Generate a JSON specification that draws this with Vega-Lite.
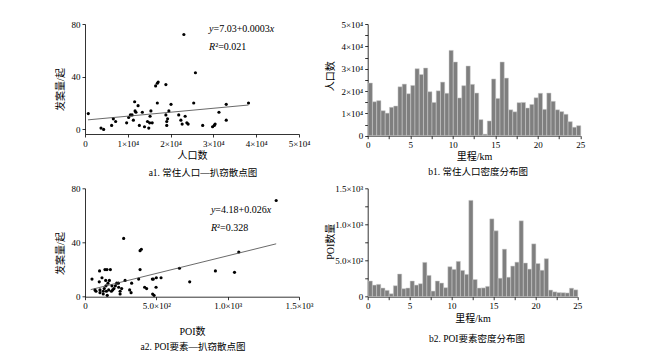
{
  "$schema": "https://vega.github.io/schema/vega-lite/v6.json",
  "padding": {"left": 55, "top": 20, "right": 5, "bottom": 5},
  "bounds": "flush",
  "columns": 2,
  "spacing": {"row": 52.3, "column": 68.7},
  "config": {
    "font": "Liberation Serif, Noto Sans CJK SC",
    "view": {"stroke": null},
    "axis": {"grid": false, "domainColor": "#000", "domainWidth": 0.8, "tickColor": "#000", "tickWidth": 0.8, "tickSize": 3, "labelFontSize": 9, "labelColor": "#000", "labelPadding": 2, "titleFontSize": 10, "titleFontWeight": "normal", "titleColor": "#000", "labelFlush": false, "labelOverlap": false},
    "title": {"fontSize": 9.5, "fontWeight": "normal", "color": "#000"}
  },
  "datasets": {
    "pts1": [
      {"pop": 770, "cases": 12}, {"pop": 3740, "cases": 1}, {"pop": 4350, "cases": 0}, {"pop": 6220, "cases": 3}, {"pop": 6620, "cases": 8}, {"pop": 7160, "cases": 6}, {"pop": 9730, "cases": 5}, {"pop": 10200, "cases": 9}, {"pop": 10600, "cases": 11}, {"pop": 11000, "cases": 11}, {"pop": 11300, "cases": 7}, {"pop": 11600, "cases": 21}, {"pop": 11700, "cases": 14}, {"pop": 11900, "cases": 13}, {"pop": 12400, "cases": 18}, {"pop": 12700, "cases": 3}, {"pop": 13400, "cases": 13}, {"pop": 13900, "cases": 2}, {"pop": 14600, "cases": 6}, {"pop": 14900, "cases": 1}, {"pop": 15100, "cases": 5}, {"pop": 15200, "cases": 10}, {"pop": 15400, "cases": 14}, {"pop": 15700, "cases": 5}, {"pop": 16500, "cases": 33}, {"pop": 16900, "cases": 35}, {"pop": 17100, "cases": 36}, {"pop": 16900, "cases": 20}, {"pop": 18900, "cases": 34}, {"pop": 18900, "cases": 11}, {"pop": 19100, "cases": 6}, {"pop": 19100, "cases": 3}, {"pop": 19300, "cases": 8}, {"pop": 19600, "cases": 14}, {"pop": 20100, "cases": 19}, {"pop": 21900, "cases": 11}, {"pop": 22400, "cases": 7}, {"pop": 22700, "cases": 4}, {"pop": 23100, "cases": 72}, {"pop": 23400, "cases": 10}, {"pop": 23800, "cases": 5}, {"pop": 24100, "cases": 4}, {"pop": 25800, "cases": 43}, {"pop": 25400, "cases": 20}, {"pop": 27500, "cases": 3}, {"pop": 29800, "cases": 2}, {"pop": 30200, "cases": 3}, {"pop": 30400, "cases": 4}, {"pop": 31300, "cases": 13}, {"pop": 33000, "cases": 19}, {"pop": 33000, "cases": 7}, {"pop": 38200, "cases": 20}
    ],
    "fit1": [{"pop": 700, "cases": 7.24}, {"pop": 38200, "cases": 18.49}],
    "eq1": [{"pop": 29000, "cases": 76, "a": "y", "b": "=7.03+0.0003", "c": "x"}],
    "r1": [{"pop": 29000, "cases": 62.3, "a": "R", "b": "²=0.021"}],
    "hist1": [
      {"a": 0, "b": 0.5, "v": 23600}, {"a": 0.5, "b": 1, "v": 15200}, {"a": 1, "b": 1.5, "v": 15700}, {"a": 1.5, "b": 2, "v": 11200}, {"a": 2, "b": 2.5, "v": 10100}, {"a": 2.5, "b": 3, "v": 12700}, {"a": 3, "b": 3.5, "v": 13300}, {"a": 3.5, "b": 4, "v": 21900}, {"a": 4, "b": 4.5, "v": 23100}, {"a": 4.5, "b": 5, "v": 18800},
      {"a": 5, "b": 5.5, "v": 22500}, {"a": 5.5, "b": 6, "v": 30000}, {"a": 6, "b": 6.5, "v": 27400}, {"a": 6.5, "b": 7, "v": 30300}, {"a": 7, "b": 7.5, "v": 19700}, {"a": 7.5, "b": 8, "v": 14900}, {"a": 8, "b": 8.5, "v": 20100}, {"a": 8.5, "b": 9, "v": 24000}, {"a": 9, "b": 9.5, "v": 19000}, {"a": 9.5, "b": 10, "v": 38200},
      {"a": 10, "b": 10.5, "v": 33000}, {"a": 10.5, "b": 11, "v": 16900}, {"a": 11, "b": 11.5, "v": 22400}, {"a": 11.5, "b": 12, "v": 31200}, {"a": 12, "b": 12.5, "v": 23000}, {"a": 12.5, "b": 13, "v": 19100}, {"a": 13, "b": 13.5, "v": 7200}, {"a": 13.5, "b": 14, "v": 700}, {"a": 14, "b": 14.5, "v": 6600}, {"a": 14.5, "b": 15, "v": 25400},
      {"a": 15, "b": 15.5, "v": 16700}, {"a": 15.5, "b": 16, "v": 33000}, {"a": 16, "b": 16.5, "v": 25800}, {"a": 16.5, "b": 17, "v": 11600}, {"a": 17, "b": 17.5, "v": 10700}, {"a": 17.5, "b": 18, "v": 14800}, {"a": 18, "b": 18.5, "v": 14900}, {"a": 18.5, "b": 19, "v": 12400}, {"a": 19, "b": 19.5, "v": 14000}, {"a": 19.5, "b": 20, "v": 17000},
      {"a": 20, "b": 20.5, "v": 19000}, {"a": 20.5, "b": 21, "v": 11800}, {"a": 21, "b": 21.5, "v": 19100}, {"a": 21.5, "b": 22, "v": 15400}, {"a": 22, "b": 22.5, "v": 11600}, {"a": 22.5, "b": 23, "v": 10800}, {"a": 23, "b": 23.5, "v": 9600}, {"a": 23.5, "b": 24, "v": 6300}, {"a": 24, "b": 24.5, "v": 3800}, {"a": 24.5, "b": 25, "v": 4500}
    ],
    "pts2": [
      {"poi": 49, "cases": 13}, {"poi": 70, "cases": 5}, {"poi": 77, "cases": 4}, {"poi": 100, "cases": 11}, {"poi": 105, "cases": 5}, {"poi": 105, "cases": 3}, {"poi": 102, "cases": 19}, {"poi": 119, "cases": 14}, {"poi": 128, "cases": 4}, {"poi": 128, "cases": 2}, {"poi": 135, "cases": 6}, {"poi": 140, "cases": 20}, {"poi": 154, "cases": 20}, {"poi": 145, "cases": 12}, {"poi": 147, "cases": 8}, {"poi": 150, "cases": 4}, {"poi": 156, "cases": 1}, {"poi": 161, "cases": 10}, {"poi": 166, "cases": 5}, {"poi": 171, "cases": 12}, {"poi": 178, "cases": 20}, {"poi": 185, "cases": 4}, {"poi": 189, "cases": 8}, {"poi": 194, "cases": 5}, {"poi": 203, "cases": 6}, {"poi": 213, "cases": 8}, {"poi": 222, "cases": 10}, {"poi": 234, "cases": 10}, {"poi": 236, "cases": 7}, {"poi": 246, "cases": 4}, {"poi": 246, "cases": 2}, {"poi": 257, "cases": 6}, {"poi": 271, "cases": 43}, {"poi": 281, "cases": 12}, {"poi": 313, "cases": 5}, {"poi": 323, "cases": 3}, {"poi": 327, "cases": 10}, {"poi": 376, "cases": 13}, {"poi": 386, "cases": 20}, {"poi": 386, "cases": 34}, {"poi": 395, "cases": 35}, {"poi": 418, "cases": 7}, {"poi": 432, "cases": 6}, {"poi": 472, "cases": 13}, {"poi": 479, "cases": 13}, {"poi": 474, "cases": 2}, {"poi": 484, "cases": 1}, {"poi": 498, "cases": 7}, {"poi": 500, "cases": 14}, {"poi": 533, "cases": 14}, {"poi": 662, "cases": 21}, {"poi": 734, "cases": 11}, {"poi": 914, "cases": 19}, {"poi": 1048, "cases": 18}, {"poi": 1078, "cases": 33}, {"poi": 1340, "cases": 71}
    ],
    "fit2": [{"poi": 40, "cases": 5.22}, {"poi": 1340, "cases": 39.02}],
    "eq2": [{"poi": 883, "cases": 63.8, "a": "y", "b": "=4.18+0.026", "c": "x"}],
    "r2": [{"poi": 883, "cases": 50.9, "a": "R", "b": "²=0.328"}],
    "hist2": [
      {"a": 0, "b": 0.5, "v": 217}, {"a": 0.5, "b": 1, "v": 161}, {"a": 1, "b": 1.5, "v": 171}, {"a": 1.5, "b": 2, "v": 120}, {"a": 2, "b": 2.5, "v": 88}, {"a": 2.5, "b": 3, "v": 41}, {"a": 3, "b": 3.5, "v": 152}, {"a": 3.5, "b": 4, "v": 314}, {"a": 4, "b": 4.5, "v": 111}, {"a": 4.5, "b": 5, "v": 120},
      {"a": 5, "b": 5.5, "v": 217}, {"a": 5.5, "b": 6, "v": 161}, {"a": 6, "b": 6.5, "v": 180}, {"a": 6.5, "b": 7, "v": 475}, {"a": 7, "b": 7.5, "v": 295}, {"a": 7.5, "b": 8, "v": 78}, {"a": 8, "b": 8.5, "v": 217}, {"a": 8.5, "b": 9, "v": 189}, {"a": 9, "b": 9.5, "v": 125}, {"a": 9.5, "b": 10, "v": 415},
      {"a": 10, "b": 10.5, "v": 378}, {"a": 10.5, "b": 11, "v": 489}, {"a": 11, "b": 11.5, "v": 364}, {"a": 11.5, "b": 12, "v": 309}, {"a": 12, "b": 12.5, "v": 1333}, {"a": 12.5, "b": 13, "v": 238}, {"a": 13, "b": 13.5, "v": 120}, {"a": 13.5, "b": 14, "v": 122}, {"a": 14, "b": 14.5, "v": 143}, {"a": 14.5, "b": 15, "v": 1077},
      {"a": 15, "b": 15.5, "v": 911}, {"a": 15.5, "b": 16, "v": 256}, {"a": 16, "b": 16.5, "v": 658}, {"a": 16.5, "b": 17, "v": 270}, {"a": 17, "b": 17.5, "v": 424}, {"a": 17.5, "b": 18, "v": 478}, {"a": 18, "b": 18.5, "v": 1050}, {"a": 18.5, "b": 19, "v": 466}, {"a": 19, "b": 19.5, "v": 382}, {"a": 19.5, "b": 20, "v": 731},
      {"a": 20, "b": 20.5, "v": 459}, {"a": 20.5, "b": 21, "v": 366}, {"a": 21, "b": 21.5, "v": 526}, {"a": 21.5, "b": 22, "v": 92}, {"a": 22, "b": 22.5, "v": 67}, {"a": 22.5, "b": 23, "v": 57}, {"a": 23, "b": 23.5, "v": 55}, {"a": 23.5, "b": 24, "v": 52}, {"a": 24, "b": 24.5, "v": 118}, {"a": 24.5, "b": 25, "v": 95}
    ]
  },
  "concat": [
    {
      "width": 214, "height": 110,
      "title": {"text": "a1. 常住人口—扒窃散点图", "orient": "bottom", "frame": "group", "anchor": "middle", "dx": 11, "offset": 8},
      "layer": [
        {
          "data": {"name": "pts1"},
          "mark": {"type": "circle", "size": 10, "color": "#000", "opacity": 1},
          "encoding": {
            "x": {"field": "pop", "type": "quantitative", "scale": {"domain": [0, 50000], "nice": false, "zero": false},
                  "axis": {"title": "人口数", "titlePadding": 2, "values": [0, 5000, 10000, 15000, 20000, 25000, 30000, 35000, 40000, 45000, 50000],
                           "labelExpr": "datum.value % 10000 ? '' : (datum.value == 0 ? '0' : (datum.value / 10000) + '×10⁴')"}},
            "y": {"field": "cases", "type": "quantitative", "scale": {"domain": [-3.5, 80], "nice": false, "zero": false},
                  "axis": {"title": "发案量/起", "values": [0, 20, 40, 60, 80], "labelExpr": "format(datum.value, 'd')", "labelOverlap": false, "labelBound": false,
                           "titleX": -25, "titleY": 65, "titleAngle": -90, "titleAlign": "center", "titleBaseline": "middle"}}
          }
        },
        {
          "data": {"name": "fit1"},
          "mark": {"type": "line", "color": "#444", "strokeWidth": 0.8},
          "encoding": {"x": {"field": "pop", "type": "quantitative"}, "y": {"field": "cases", "type": "quantitative"}}
        },
        {
          "data": {"name": "eq1"},
          "mark": {"type": "text", "align": "left", "baseline": "middle", "fontSize": 10, "fontStyle": "italic"},
          "encoding": {"x": {"field": "pop", "type": "quantitative"}, "y": {"field": "cases", "type": "quantitative"}, "text": {"field": "a"}}
        },
        {
          "data": {"name": "eq1"},
          "mark": {"type": "text", "align": "left", "baseline": "middle", "fontSize": 10, "dx": 4.4},
          "encoding": {"x": {"field": "pop", "type": "quantitative"}, "y": {"field": "cases", "type": "quantitative"}, "text": {"field": "b"}}
        },
        {
          "data": {"name": "eq1"},
          "mark": {"type": "text", "align": "left", "baseline": "middle", "fontSize": 10, "fontStyle": "italic", "dx": 60.7},
          "encoding": {"x": {"field": "pop", "type": "quantitative"}, "y": {"field": "cases", "type": "quantitative"}, "text": {"field": "c"}}
        },
        {
          "data": {"name": "r1"},
          "mark": {"type": "text", "align": "left", "baseline": "middle", "fontSize": 10, "fontStyle": "italic"},
          "encoding": {"x": {"field": "pop", "type": "quantitative"}, "y": {"field": "cases", "type": "quantitative"}, "text": {"field": "a"}}
        },
        {
          "data": {"name": "r1"},
          "mark": {"type": "text", "align": "left", "baseline": "middle", "fontSize": 10, "dx": 6.1},
          "encoding": {"x": {"field": "pop", "type": "quantitative"}, "y": {"field": "cases", "type": "quantitative"}, "text": {"field": "b"}}
        }
      ]
    },
    {
      "width": 212.6, "height": 111.7,
      "title": {"text": "b1. 常住人口密度分布图", "orient": "bottom", "frame": "group", "anchor": "middle", "dx": 4, "offset": 5},
      "data": {"name": "hist1"},
      "mark": {"type": "bar", "fill": "#7f7f7f", "stroke": "#cfcfcf", "strokeWidth": 0.5, "binSpacing": 0},
      "encoding": {
        "x": {"field": "a", "type": "quantitative", "bin": {"binned": true, "step": 0.5}, "scale": {"domain": [0, 25], "nice": false, "zero": false},
              "axis": {"title": "里程/km", "titlePadding": 2, "values": [0, 2.5, 5, 7.5, 10, 12.5, 15, 17.5, 20, 22.5, 25], "labelExpr": "datum.value % 5 ? '' : format(datum.value, 'd')"}},
        "x2": {"field": "b"},
        "y": {"field": "v", "type": "quantitative", "scale": {"domain": [0, 50000], "nice": false},
              "axis": {"title": "人口数", "values": [0, 5000, 10000, 15000, 20000, 25000, 30000, 35000, 40000, 45000, 50000],
                       "labelExpr": "datum.value % 10000 ? '' : (datum.value == 0 ? '0' : (datum.value / 10000) + '×10⁴')",
                       "titleX": -37.7, "titleY": 51.7, "titleAngle": -90, "titleAlign": "center", "titleBaseline": "middle"}}
      }
    },
    {
      "width": 214, "height": 108.4,
      "title": {"text": "a2. POI要素—扒窃散点图", "orient": "bottom", "frame": "group", "anchor": "middle", "dx": 1, "offset": 5},
      "layer": [
        {
          "data": {"name": "pts2"},
          "mark": {"type": "circle", "size": 10, "color": "#000", "opacity": 1},
          "encoding": {
            "x": {"field": "poi", "type": "quantitative", "scale": {"domain": [0, 1500], "nice": false, "zero": false},
                  "axis": {"title": "POI数", "titlePadding": 16, "values": [0, 250, 500, 750, 1000, 1250, 1500],
                           "labelExpr": "datum.value == 0 ? '0' : datum.value == 500 ? '5.0×10²' : datum.value == 1000 ? '1.0×10³' : datum.value == 1500 ? '1.5×10³' : ''"}},
            "y": {"field": "cases", "type": "quantitative", "scale": {"domain": [0, 80], "nice": false, "zero": false},
                  "axis": {"title": "发案量/起", "values": [0, 20, 40, 60, 80], "labelExpr": "format(datum.value, 'd')", "labelOverlap": false, "labelBound": false,
                           "titleX": -25, "titleY": 64.7, "titleAngle": -90, "titleAlign": "center", "titleBaseline": "middle"}}
          }
        },
        {
          "data": {"name": "fit2"},
          "mark": {"type": "line", "color": "#444", "strokeWidth": 0.8},
          "encoding": {"x": {"field": "poi", "type": "quantitative"}, "y": {"field": "cases", "type": "quantitative"}}
        },
        {
          "data": {"name": "eq2"},
          "mark": {"type": "text", "align": "left", "baseline": "middle", "fontSize": 10, "fontStyle": "italic"},
          "encoding": {"x": {"field": "poi", "type": "quantitative"}, "y": {"field": "cases", "type": "quantitative"}, "text": {"field": "a"}}
        },
        {
          "data": {"name": "eq2"},
          "mark": {"type": "text", "align": "left", "baseline": "middle", "fontSize": 10, "dx": 4.4},
          "encoding": {"x": {"field": "poi", "type": "quantitative"}, "y": {"field": "cases", "type": "quantitative"}, "text": {"field": "b"}}
        },
        {
          "data": {"name": "eq2"},
          "mark": {"type": "text", "align": "left", "baseline": "middle", "fontSize": 10, "fontStyle": "italic", "dx": 55.7},
          "encoding": {"x": {"field": "poi", "type": "quantitative"}, "y": {"field": "cases", "type": "quantitative"}, "text": {"field": "c"}}
        },
        {
          "data": {"name": "r2"},
          "mark": {"type": "text", "align": "left", "baseline": "middle", "fontSize": 10, "fontStyle": "italic"},
          "encoding": {"x": {"field": "poi", "type": "quantitative"}, "y": {"field": "cases", "type": "quantitative"}, "text": {"field": "a"}}
        },
        {
          "data": {"name": "r2"},
          "mark": {"type": "text", "align": "left", "baseline": "middle", "fontSize": 10, "dx": 6.1},
          "encoding": {"x": {"field": "poi", "type": "quantitative"}, "y": {"field": "cases", "type": "quantitative"}, "text": {"field": "b"}}
        }
      ]
    },
    {
      "width": 209.6, "height": 108.4,
      "title": {"text": "b2. POI要素密度分布图", "orient": "bottom", "frame": "group", "anchor": "middle", "dx": 4.5, "offset": 10},
      "data": {"name": "hist2"},
      "mark": {"type": "bar", "fill": "#7f7f7f", "stroke": "#cfcfcf", "strokeWidth": 0.5, "binSpacing": 0},
      "encoding": {
        "x": {"field": "a", "type": "quantitative", "bin": {"binned": true, "step": 0.5}, "scale": {"domain": [0, 25], "nice": false, "zero": false},
              "axis": {"title": "里程/km", "titlePadding": 3, "values": [0, 2.5, 5, 7.5, 10, 12.5, 15, 17.5, 20, 22.5, 25], "labelExpr": "datum.value % 5 ? '' : format(datum.value, 'd')"}},
        "x2": {"field": "b"},
        "y": {"field": "v", "type": "quantitative", "scale": {"domain": [0, 1500], "nice": false},
              "axis": {"title": "POI数量", "values": [0, 250, 500, 750, 1000, 1250, 1500],
                       "labelExpr": "datum.value == 0 ? '0' : datum.value == 500 ? '5.0×10²' : datum.value == 1000 ? '1.0×10³' : datum.value == 1500 ? '1.5×10³' : ''",
                       "titleX": -37.7, "titleY": 53, "titleAngle": -90, "titleAlign": "center", "titleBaseline": "middle"}}
      }
    }
  ]
}
